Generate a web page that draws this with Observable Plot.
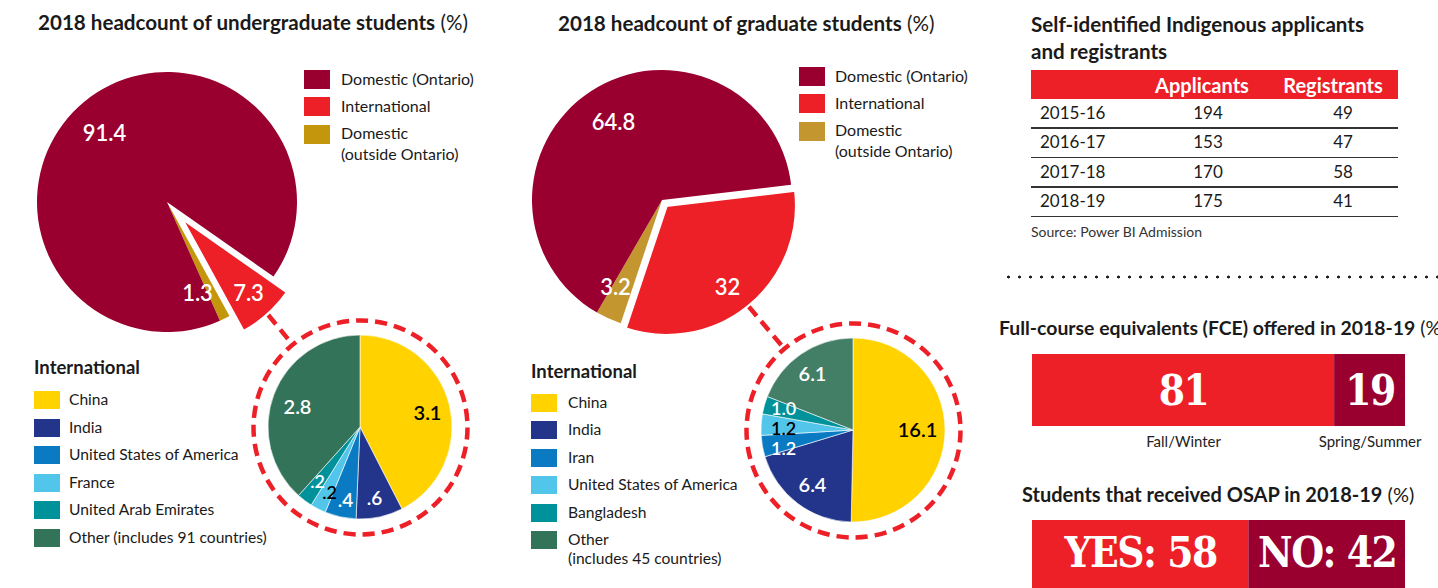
<!DOCTYPE html>
<html><head><meta charset="utf-8">
<script src="https://cdn.jsdelivr.net/npm/d3@7"></script>
<script src="https://cdn.jsdelivr.net/npm/@observablehq/plot@0.6"></script>
<style>
html,body{margin:0;padding:0;background:#fff;}
#root{position:relative;width:1438px;height:588px;overflow:hidden;font-family:Lato,"Open Sans",sans-serif;color:#1a1a1a;}
#root svg{max-width:none !important;}
#root g[font-size="42"]{letter-spacing:-1.5px;}
.abs{position:absolute;white-space:nowrap;line-height:1.15;}
.sw{position:absolute;}
</style></head>
<body><div id="root"></div>
<script>
// ---------------- DATA ----------------
const mainCategories = ["Domestic (Ontario)", "International", "Domestic (outside Ontario)"];
const ugValues = [91.4, 7.3, 1.3];
const ugLabels = ["91.4", "7.3", "1.3"];
const gradValues = [64.8, 32, 3.2];
const gradLabels = ["64.8", "32", "3.2"];

const ugIntlCountries = ["China", "India", "United States of America", "France", "United Arab Emirates", "Other (includes 91 countries)"];
const ugIntlValues = [3.1, 0.6, 0.4, 0.2, 0.2, 2.8];
const ugIntlLabels = ["3.1", ".6", ".4", ".2", ".2", "2.8"];

const gradIntlCountries = ["China", "India", "Iran", "United States of America", "Bangladesh", "Other"];
const gradIntlValues = [16.1, 6.4, 1.2, 1.2, 1.0, 6.1];
const gradIntlLabels = ["16.1", "6.4", "1.2", "1.2", "1.0", "6.1"];

const indigenousYears = ["2015-16", "2016-17", "2017-18", "2018-19"];
const indigenousApplicants = [194, 153, 170, 175];
const indigenousRegistrants = [49, 47, 58, 41];

const fceTerms = ["Fall/Winter", "Spring/Summer"];
const fceValues = [81, 19];
const osapAnswers = ["YES", "NO"];
const osapValues = [58, 42];

// ---------------- STYLE / LAYOUT ----------------
const COL = {maroon:"#990030", red:"#ED1F27", goldUG:"#C4960C", goldGrad:"#C4962F",
  yellow:"#FFD200", navy:"#22358A", blue:"#0A7BC2", lightBlue:"#52C5EA", teal:"#00929A",
  green:"#33735A", greenGrad:"#437E66"};
const ugMainColors = [COL.maroon, COL.red, COL.goldUG];
const gradMainColors = [COL.maroon, COL.red, COL.goldGrad];
const ugIntlColors = [COL.yellow, COL.navy, COL.blue, COL.lightBlue, COL.teal, COL.green];
const gradIntlColors = [COL.yellow, COL.navy, COL.blue, COL.lightBlue, COL.teal, COL.greenGrad];
const ugIntlTextColors = ["black","white","white","black","white","white"];
const gradIntlTextColors = ["black","white","white","black","white","white"];
const ugIntlTextSizes = [20, 19, 19, 18, 18, 20];
const gradIntlTextSizes = [20, 20, 18, 18, 18, 20];
const FONT = "Lato, 'Open Sans', sans-serif";
const SLAB = "'DejaVu Serif Condensed', 'DejaVu Serif', serif";

const LAYOUT = {
  ug: {cx:167, cy:202, r:130, start:125, order:[1,2,0], explode:1, explodePx:21,
       labelOff:[[-63,-69],[81,91],[30,91]],
       inner:{cx:360, cy:427, r:92, ring:107, labelOff:[[67,-14],[14,71],[-15,73],[-31,66],[-43,55],[-63,-20]]}},
  grad:{cx:662, cy:200, r:130, start:83.3, order:[1,2,0], explode:1, explodePx:7,
       labelOff:[[-49,-78],[65,87],[-47,87]],
       inner:{cx:853, cy:430, r:92, ring:107, labelOff:[[64,0],[-41,55],[-70,19],[-70,-1],[-70,-21],[-41,-56]]}}
};

const deg = Math.PI / 180;
function pieSlices(values, colors, cx, cy, r, startDeg, order, explodeIdx, explodePx, strokeW) {
  const total = d3.sum(values);
  let a = startDeg * deg;
  const out = [];
  for (const i of order) {
    const span = values[i] / total * 2 * Math.PI;
    const a0 = a, a1 = a + span; a = a1;
    const mid = (a0 + a1) / 2;
    const off = i === explodeIdx ? explodePx : 0;
    out.push({i, cx: cx + off * Math.sin(mid), cy: cy - off * Math.cos(mid), r, a0, a1, mid,
      fill: colors[i], stroke: "white", sw: i === explodeIdx ? 3 : strokeW});
  }
  out.sort((p, q) => (p.i === explodeIdx) - (q.i === explodeIdx));
  return out;
}
function sliceMark(slices) {
  return (index, scales) => {
    const sx = scales.x || (v => v), sy = scales.y || (v => v);
    const g = d3.create("svg:g");
    for (const s of slices) {
      const x = sx(s.cx), y = sy(s.cy);
      const rp = sx(s.cx + s.r) - x;
      g.append("path")
        .attr("d", d3.arc()({innerRadius:0, outerRadius:rp, startAngle:s.a0, endAngle:s.a1}))
        .attr("transform", `translate(${x},${y})`)
        .attr("fill", s.fill)
        .attr("stroke", s.sw > 0 ? s.stroke : "none")
        .attr("stroke-width", s.sw)
        .attr("stroke-linejoin", "miter");
    }
    return g.node();
  };
}

function panelMarks(key, values, labels, colors, iValues, iLabels, iColors, iTextColors, iTextSizes) {
  const L = LAYOUT[key], I = L.inner;
  const big = pieSlices(values, colors, L.cx, L.cy, L.r, L.start, L.order, L.explode, L.explodePx, 0);
  const small = pieSlices(iValues, iColors, I.cx, I.cy, I.r, 0, d3.range(iValues.length), -1, 0, 0.6);
  const ex = big.find(s => s.i === L.explode);
  const p1 = {x: ex.cx + L.r * Math.sin(ex.mid), y: ex.cy - L.r * Math.cos(ex.mid)};
  const dx = p1.x - I.cx, dy = p1.y - I.cy, len = Math.hypot(dx, dy);
  const p2 = {x: I.cx + dx / len * I.ring, y: I.cy + dy / len * I.ring};
  const bigLabels = values.map((v, i) => ({t: labels[i], x: L.cx + L.labelOff[i][0], y: L.cy + L.labelOff[i][1]}));
  const smallLabels = iValues.map((v, i) => ({t: iLabels[i], x: I.cx + I.labelOff[i][0], y: I.cy + I.labelOff[i][1], c: iTextColors[i], s: iTextSizes[i]}));
  return [
    sliceMark(big),
    Plot.link([{p1, p2}], {x1: d => d.p1.x, y1: d => d.p1.y, x2: d => d.p2.x, y2: d => d.p2.y,
      stroke: COL.red, strokeWidth: 4.5, strokeDasharray: "12,7"}),
    Plot.dot([I], {x: "cx", y: "cy", r: I.ring, stroke: COL.red, strokeWidth: 4.5, strokeDasharray: "12.2,7", fill: "none"}),
    sliceMark(small),
    Plot.text(bigLabels, {x: "x", y: "y", text: "t", fill: "white", fontSize: 22, fontWeight: 600, fontFamily: FONT}),
    ...d3.groups(smallLabels, d => d.s).map(([size, rows]) =>
      Plot.text(rows, {x: "x", y: "y", text: "t", fill: "c", fontSize: size, fontWeight: 600, fontFamily: FONT}))
  ];
}

const root = document.getElementById("root");

// ---------- pies plot ----------
const pies = Plot.plot({
  width: 990, height: 588, margin: 0,
  x: {domain: [0, 990], range: [0, 990], axis: null},
  y: {domain: [0, 588], range: [0, 588], axis: null},
  color: {type: "identity"},
  style: {background: "transparent", overflow: "visible"},
  marks: [
    ...panelMarks("ug", ugValues, ugLabels, ugMainColors, ugIntlValues, ugIntlLabels, ugIntlColors, ugIntlTextColors, ugIntlTextSizes),
    ...panelMarks("grad", gradValues, gradLabels, gradMainColors, gradIntlValues, gradIntlLabels, gradIntlColors, gradIntlTextColors, gradIntlTextSizes)
  ]
});
const pw = document.createElement("div");
pw.style.cssText = "position:absolute;left:0;top:0;width:990px;height:588px;";
pw.appendChild(pies);
root.appendChild(pw);

// ---------- html helpers ----------
function txt(html, x, y, css = "", center = false) {
  const d = document.createElement("div");
  d.className = "abs";
  d.innerHTML = html;
  d.style.cssText += `left:${x}px;top:${y}px;transform:translate(${center ? "-50%" : "0"},-50%);` + css;
  root.appendChild(d);
  return d;
}
function swatch(color, x, y, w = 26, h = 19) {
  const d = document.createElement("div");
  d.className = "sw";
  d.style.cssText = `left:${x}px;top:${y - h / 2}px;width:${w}px;height:${h}px;background:${color};`;
  root.appendChild(d);
}
const TITLE = "font-size:20.6px;";
txt(`<b>2018 headcount of undergraduate students</b> (%)`, 38, 23, TITLE);
txt(`<b>2018 headcount of graduate students</b> (%)`, 558, 24, TITLE);

function topLegend(x, ys, colors, textX) {
  mainCategories.forEach((c, i) => {
    swatch(colors[i], x, ys[i]);
    if (i === 2) {
      txt("Domestic", textX, ys[i] - 1, "font-size:16px;");
      txt("(outside Ontario)", textX, ys[i] + 20, "font-size:16px;");
    } else txt(c, textX, ys[i], "font-size:16px;");
  });
}
topLegend(304, [79, 106, 134], ugMainColors, 341);
topLegend(799, [76, 103, 131], gradMainColors, 835);

txt("<b>International</b>", 34, 368, "font-size:18.5px;");
ugIntlCountries.forEach((c, i) => {
  const y = 400 + i * 27.6;
  swatch(ugIntlColors[i], 34, y, 26, 18);
  txt(c, 69, y, "font-size:15.6px;");
});
txt("<b>International</b>", 531, 372, "font-size:18.5px;");
gradIntlCountries.forEach((c, i) => {
  const y = 403 + i * 27.4;
  swatch(i === 5 ? COL.green : gradIntlColors[i], 531, y, 26, 18);
  txt(c, 568, y, "font-size:15.6px;");
});
txt("(includes 45 countries)", 568, 559, "font-size:15.6px;");

// ---------- indigenous table ----------
txt("<b>Self-identified Indigenous applicants</b>", 1031, 25, TITLE);
txt("<b>and registrants</b>", 1031, 52, TITLE);
const hdr = document.createElement("div");
hdr.style.cssText = `position:absolute;left:1031px;top:70px;width:367px;height:29px;background:${COL.red};`;
root.appendChild(hdr);
txt("<b>Applicants</b>", 1202, 85, "font-size:20px;color:white;", true);
txt("<b>Registrants</b>", 1333, 85, "font-size:20px;color:white;", true);
indigenousYears.forEach((yr, i) => {
  const yc = 113 + i * 29.4;
  txt(yr, 1040, yc, "font-size:17px;");
  txt(String(indigenousApplicants[i]), 1208, yc, "font-size:17px;", true);
  txt(String(indigenousRegistrants[i]), 1343, yc, "font-size:17px;", true);
  const ln = document.createElement("div");
  ln.style.cssText = `position:absolute;left:1031px;top:${127 + i * 29.6}px;width:367px;height:1.5px;background:#333;`;
  root.appendChild(ln);
});
txt("Source: Power BI Admission", 1031, 232, "font-size:14px;color:#333;");

const dots = document.createElement("div");
dots.style.cssText = "position:absolute;left:1003px;top:275px;width:435px;height:4px;background:radial-gradient(circle,#222 1.3px,transparent 1.7px) 0 0/11px 4px repeat-x;";
root.appendChild(dots);

// ---------- bars ----------
txt(`<b>Full-course equivalents (FCE) offered in 2018-19</b> (%)`, 999, 328, "font-size:19.4px;");
txt(`<b>Students that received OSAP in 2018-19</b> (%)`, 1022, 494, "font-size:20px;");

const fceData = fceTerms.map((t, i) => ({term: t, value: fceValues[i]}));
const fcePlot = Plot.plot({
  width: 373 + 40, height: 72 + 32, marginLeft: 0, marginTop: 0, marginRight: 40, marginBottom: 32,
  x: {domain: [0, 100], axis: null},
  color: {domain: fceTerms, range: [COL.red, COL.maroon]},
  style: {background: "transparent", overflow: "visible"},
  marks: [
    Plot.barX(fceData, {x: "value", fill: "term"}),
    Plot.text(fceData, Plot.stackX({x: "value", text: d => String(d.value), fill: "white",
      fontSize: 42, fontWeight: 900, fontFamily: SLAB, dy: 1})),
    Plot.text(fceData, Plot.stackX({x: "value", text: "term", frameAnchor: "bottom", dy: 20,
      fill: "#222", fontSize: 15, fontFamily: FONT}))
  ]
});
const fw = document.createElement("div");
fw.style.cssText = "position:absolute;left:1032px;top:354px;width:413px;";
fw.appendChild(fcePlot); root.appendChild(fw);

const osapData = osapAnswers.map((a, i) => ({answer: a, value: osapValues[i]}));
const osapPlot = Plot.plot({
  width: 373, height: 72, margin: 0,
  x: {domain: [0, 100], axis: null},
  color: {domain: osapAnswers, range: [COL.red, COL.maroon]},
  style: {background: "transparent", overflow: "visible"},
  marks: [
    Plot.barX(osapData, {x: "value", fill: "answer"}),
    Plot.text(osapData, Plot.stackX({x: "value", text: d => `${d.answer}: ${d.value}`, fill: "white",
      fontSize: 42, fontWeight: 900, fontFamily: SLAB, dy: -3}))
  ]
});
const ow = document.createElement("div");
ow.style.cssText = "position:absolute;left:1032px;top:520px;width:373px;";
ow.appendChild(osapPlot); root.appendChild(ow);
</script>
</body></html>
